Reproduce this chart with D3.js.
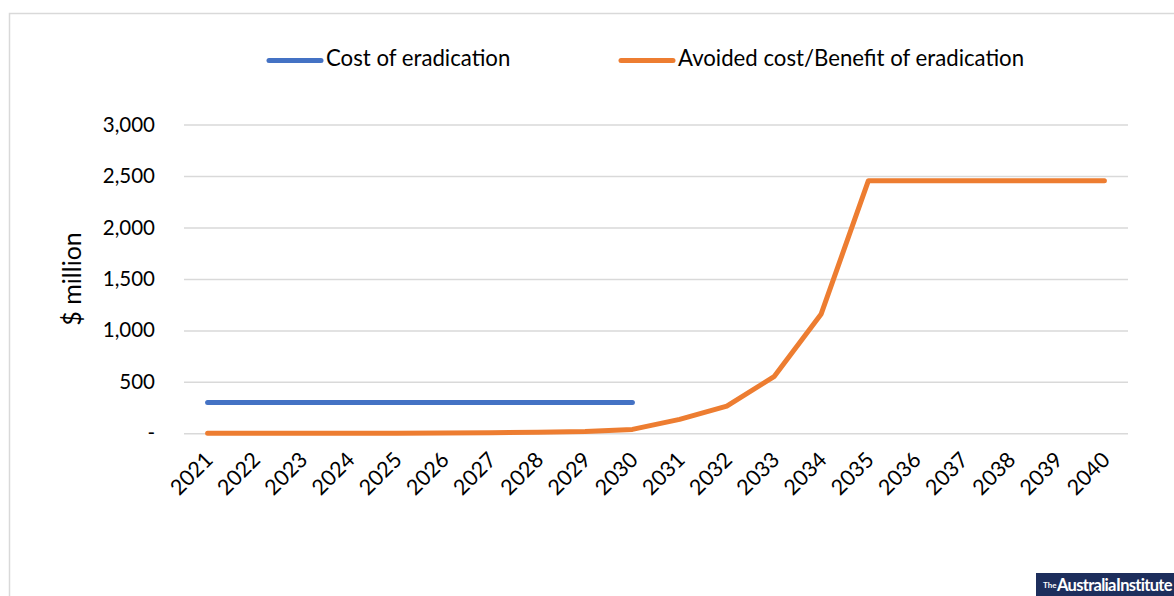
<!DOCTYPE html>
<html>
<head>
<meta charset="utf-8">
<script src="https://cdn.jsdelivr.net/npm/d3@7"></script>
<style>
  html, body { margin: 0; padding: 0; background: #fff; }
  svg { display: block; font-family: Lato, "Open Sans", sans-serif; }
</style>
</head>
<body>
<svg id="chart" width="1174" height="596"></svg>
<script>
// Years on the category axis
const years = ["2021","2022","2023","2024","2025","2026","2027","2028","2029","2030",
               "2031","2032","2033","2034","2035","2036","2037","2038","2039","2040"];
// Cost of eradication ($ million), incurred 2021–2030
const costYears = ["2021","2022","2023","2024","2025","2026","2027","2028","2029","2030"];
const costValues = [300, 300, 300, 300, 300, 300, 300, 300, 300, 300];
// Avoided cost / benefit of eradication ($ million)
const benefitValues = [0, 0, 0, 0, 0, 2, 5, 10, 18, 38,
                       135, 265, 550, 1160, 2455, 2455, 2455, 2455, 2455, 2455];
// Value axis ticks
const yTicks = [0, 500, 1000, 1500, 2000, 2500, 3000];

const svg = d3.select("#chart");
const W = 1174, H = 596;

// Outer frame
svg.append("rect")
  .attr("x", 9.5).attr("y", 13.5)
  .attr("width", W + 10).attr("height", H + 10)
  .attr("fill", "none").attr("stroke", "#d9d9d9").attr("stroke-width", 1.5);

const plot = { left: 184, right: 1128, top: 124.6, bottom: 433.3 };

const x = d3.scaleBand().domain(years).range([plot.left, plot.right]).paddingInner(0).paddingOuter(0);
const y = d3.scaleLinear().domain([0, 3000]).range([plot.bottom, plot.top]);
const cx = d => x(d) + x.bandwidth() / 2;

// Gridlines + y tick labels
const yAxis = d3.axisLeft(y)
  .tickValues(yTicks)
  .tickSize(-(plot.right - plot.left))
  .tickPadding(29)
  .tickFormat(d => d === 0 ? "-" : d3.format(",")(d));
const gy = svg.append("g").attr("transform", `translate(${plot.left},0)`).call(yAxis);
gy.select(".domain").remove();
gy.selectAll(".tick line").attr("stroke", "#d9d9d9").attr("stroke-width", 1.5);
gy.selectAll(".tick text")
  .attr("fill", "#000").attr("font-size", 20.5)
  .attr("font-family", "Lato, 'Open Sans', sans-serif");

// Category axis labels, rotated
const xAxis = d3.axisBottom(x).tickSize(0).tickPadding(0);
const gx = svg.append("g").attr("transform", `translate(0,${plot.bottom})`).call(xAxis);
gx.select(".domain").remove();
gx.selectAll(".tick text")
  .attr("fill", "#000").attr("font-size", 21.5)
  .attr("font-family", "Lato, 'Open Sans', sans-serif")
  .attr("text-anchor", "end")
  .attr("dy", null).attr("y", 0)
  .attr("transform", "translate(3,24) rotate(-45)")
  .attr("dominant-baseline", "middle");

// Y axis title
svg.append("text")
  .attr("transform", `translate(81,${(plot.top + plot.bottom) / 2}) rotate(-90)`)
  .attr("text-anchor", "middle")
  .attr("font-size", 25)
  .attr("fill", "#000")
  .text("$ million");

const line = d3.line().x(d => cx(d[0])).y(d => y(d[1]));

// Benefit series
svg.append("path")
  .datum(years.map((yr, i) => [yr, benefitValues[i]]))
  .attr("d", line)
  .attr("fill", "none").attr("stroke", "#ed7d31").attr("stroke-width", 5)
  .attr("stroke-linecap", "round").attr("stroke-linejoin", "round");

// Cost series
svg.append("path")
  .datum(costYears.map((yr, i) => [yr, costValues[i]]))
  .attr("d", line)
  .attr("fill", "none").attr("stroke", "#4472c4").attr("stroke-width", 5)
  .attr("stroke-linecap", "round").attr("stroke-linejoin", "round");

// Legend
const legendItems = [
  { label: "Cost of eradication", color: "#4472c4", x: 269 },
  { label: "Avoided cost/Benefit of eradication", color: "#ed7d31", x: 621 }
];
const lg = svg.append("g");
legendItems.forEach(it => {
  lg.append("line")
    .attr("x1", it.x).attr("x2", it.x + 52)
    .attr("y1", 60.5).attr("y2", 60.5)
    .attr("stroke", it.color).attr("stroke-width", 5).attr("stroke-linecap", "round");
  lg.append("text")
    .attr("x", it.x + 57).attr("y", 60.5)
    .attr("dominant-baseline", "middle")
    .attr("font-size", 22.2).attr("fill", "#000")
    .text(it.label);
});

// Publisher badge
const badge = svg.append("g");
badge.append("rect")
  .attr("x", 1036).attr("y", 573).attr("width", 140).attr("height", 25)
  .attr("fill", "#1d2e5c");
badge.append("text")
  .attr("x", 1043).attr("y", 588)
  .attr("font-size", 8).attr("fill", "#fff").attr("font-weight", 700)
  .text("The");
badge.append("text")
  .attr("x", 1057).attr("y", 591)
  .attr("font-size", 16.5).attr("fill", "#fff").attr("font-weight", 700)
  .attr("letter-spacing", -0.7)
  .attr("word-spacing", -3)
  .text("Australia Institute");
</script>
</body>
</html>
